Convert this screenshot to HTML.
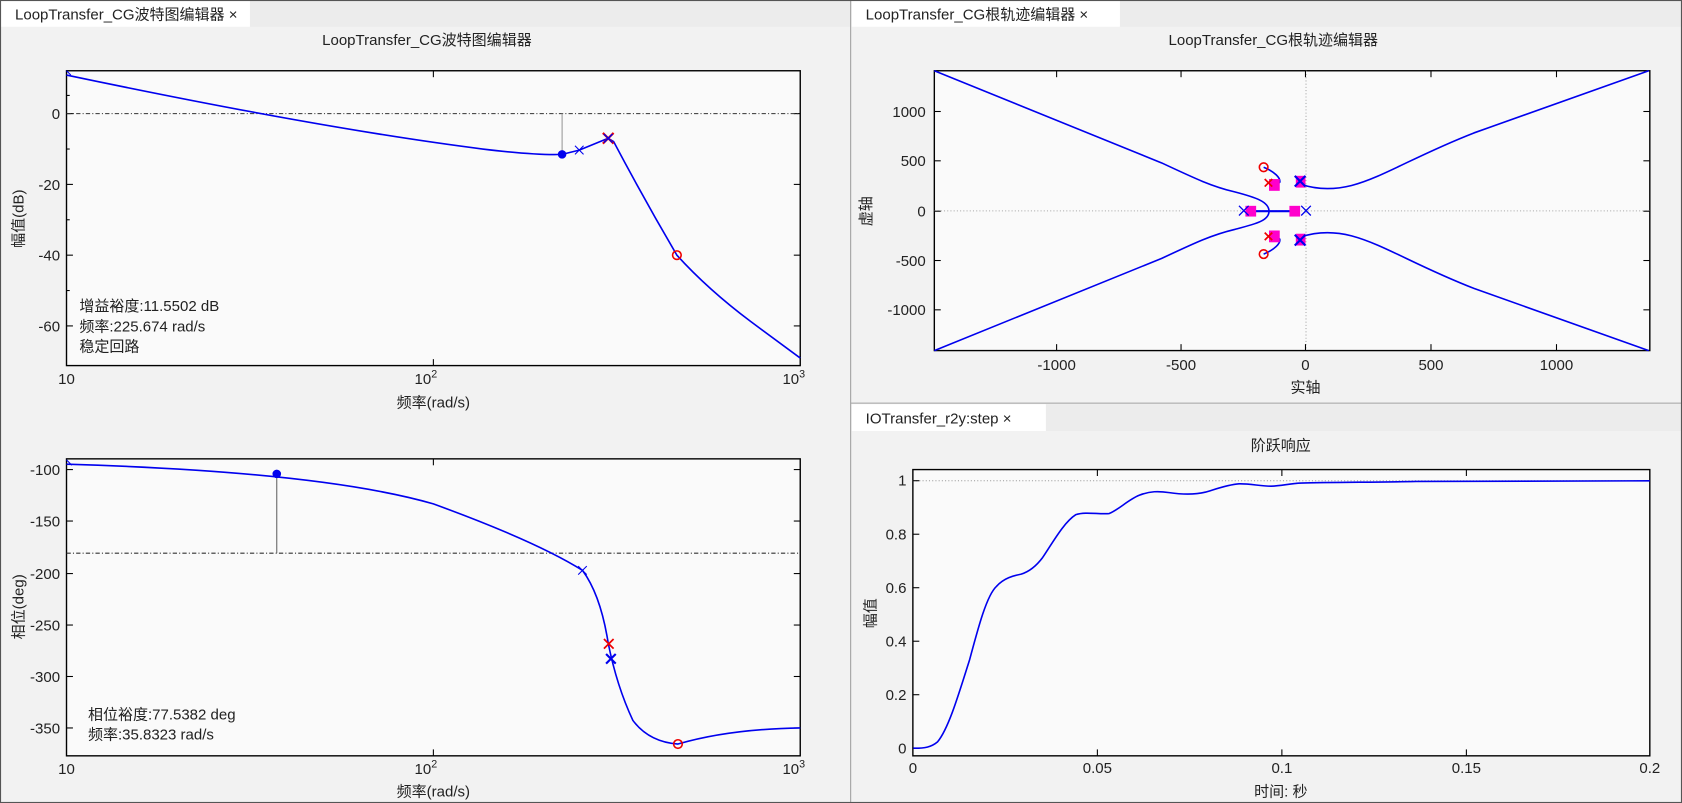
<!DOCTYPE html>
<html><head><meta charset="utf-8"><style>
html,body{margin:0;padding:0;background:#f0f0f0;overflow:hidden}
svg{display:block}
text{font-family:"Liberation Sans","Noto Sans CJK SC",sans-serif;fill:#222}
</style></head><body>
<svg width="1682" height="803" viewBox="0 0 1568 749" preserveAspectRatio="none" xmlns="http://www.w3.org/2000/svg">
<rect width="1568" height="749" fill="#f2f2f2"/>
<rect x="0" y="0" width="793" height="25" fill="#ececec"/>
<rect x="0" y="0" width="233" height="25" fill="#fff"/>
<text x="14" y="18" font-size="14">LoopTransfer_CG波特图编辑器 ×</text>
<rect x="794" y="0" width="774" height="25" fill="#ececec"/>
<rect x="794" y="0" width="250" height="25" fill="#fff"/>
<text x="807" y="18" font-size="14">LoopTransfer_CG根轨迹编辑器 ×</text>
<rect x="794" y="377" width="774" height="25" fill="#ececec"/>
<rect x="794" y="377" width="181" height="25" fill="#fff"/>
<text x="807" y="395" font-size="14">IOTransfer_r2y:step ×</text>
<line x1="793" y1="0" x2="793" y2="749" stroke="#a0a0a0"/>
<line x1="793" y1="376" x2="1568" y2="376" stroke="#a0a0a0"/>
<rect x="0.5" y="0.5" width="1567" height="748" fill="none" stroke="#555"/>

<text x="398" y="42" font-size="14" text-anchor="middle">LoopTransfer_CG波特图编辑器</text>
<text x="1187" y="42" font-size="14" text-anchor="middle">LoopTransfer_CG根轨迹编辑器</text>
<text x="1194" y="420" font-size="14" text-anchor="middle">阶跃响应</text>

<!-- Bode magnitude -->
<rect x="62" y="66" width="684" height="275" fill="#fafafa" stroke="#000" stroke-width="1.3"/>
<g stroke="#000" stroke-width="1">
<line x1="62" y1="106" x2="68" y2="106"/><line x1="62" y1="172" x2="68" y2="172"/><line x1="62" y1="238" x2="68" y2="238"/><line x1="62" y1="304" x2="68" y2="304"/>
<line x1="62" y1="89" x2="65" y2="89"/><line x1="62" y1="139" x2="65" y2="139"/><line x1="62" y1="205" x2="65" y2="205"/><line x1="62" y1="271" x2="65" y2="271"/>
<line x1="740" y1="106" x2="746" y2="106"/><line x1="740" y1="172" x2="746" y2="172"/><line x1="740" y1="238" x2="746" y2="238"/><line x1="740" y1="304" x2="746" y2="304"/>
<line x1="404" y1="66" x2="404" y2="72"/><line x1="404" y1="341" x2="404" y2="335"/>
</g>
<line x1="62" y1="106" x2="746" y2="106" stroke="#333" stroke-dasharray="4,2,1,2"/>
<line x1="524" y1="106" x2="524" y2="144" stroke="#999"/>
<path fill="none" stroke="#0000ee" stroke-width="1.5" stroke-linejoin="round" d="M62,70 Q300,120 450,139 Q500,145 524,144 L540,140 L567,129 L572,132 Q600,185 631,238 Q660,270 700,300 L746,334"/>
<circle cx="524" cy="144" r="4" fill="#0000ee"/>
<path d="M536,136l8,8M544,136l-8,8" stroke="#0000ee"/>
<path d="M62,66l4,4" stroke="#0000ee"/>
<path d="M562,124l10,10M572,124l-10,10" stroke="#ee0000" stroke-width="2"/>
<path d="M563,125l8,8M571,125l-8,8" stroke="#0000ee" stroke-width="1.3"/>
<circle cx="631" cy="238" r="4" fill="none" stroke="#ee0000" stroke-width="1.5"/>
<g font-size="14" text-anchor="end">
<text x="56" y="111">0</text><text x="56" y="177">-20</text><text x="56" y="243">-40</text><text x="56" y="309">-60</text>
</g>
<text x="62" y="358" font-size="14" text-anchor="middle">10</text>
<text x="397" y="358" font-size="14" text-anchor="middle">10<tspan font-size="10" dy="-6">2</tspan></text>
<text x="740" y="358" font-size="14" text-anchor="middle">10<tspan font-size="10" dy="-6">3</tspan></text>
<text x="404" y="380" font-size="14" text-anchor="middle">频率(rad/s)</text>
<text transform="translate(22,204) rotate(-90)" font-size="14" text-anchor="middle">幅值(dB)</text>
<text x="74" y="290" font-size="14">增益裕度:11.5502 dB</text>
<text x="74" y="309" font-size="14">频率:225.674 rad/s</text>
<text x="74" y="328" font-size="14">稳定回路</text>

<!-- Bode phase -->
<rect x="62" y="428" width="684" height="277" fill="#fafafa" stroke="#000" stroke-width="1.3"/>
<g stroke="#000">
<line x1="62" y1="438" x2="68" y2="438"/><line x1="62" y1="486" x2="68" y2="486"/><line x1="62" y1="535" x2="68" y2="535"/><line x1="62" y1="583" x2="68" y2="583"/><line x1="62" y1="631" x2="68" y2="631"/><line x1="62" y1="679" x2="68" y2="679"/>
<line x1="740" y1="438" x2="746" y2="438"/><line x1="740" y1="486" x2="746" y2="486"/><line x1="740" y1="535" x2="746" y2="535"/><line x1="740" y1="583" x2="746" y2="583"/><line x1="740" y1="631" x2="746" y2="631"/><line x1="740" y1="679" x2="746" y2="679"/>
<line x1="404" y1="428" x2="404" y2="434"/><line x1="404" y1="705" x2="404" y2="699"/>
</g>
<line x1="62" y1="516" x2="746" y2="516" stroke="#333" stroke-dasharray="4,2,1,2"/>
<line x1="258" y1="442" x2="258" y2="516" stroke="#666"/>
<path fill="none" stroke="#0000ee" stroke-width="1.5" d="M62,433 Q300,440 404,470 Q500,505 543,532 Q560,555 567,600 Q575,640 590,672 Q605,692 632,694 Q680,680 746,679"/>
<circle cx="258" cy="442" r="4" fill="#0000ee"/>
<path d="M539,528l8,8M547,528l-8,8" stroke="#0000ee"/>
<path d="M563,596l9,9M572,596l-9,9" stroke="#ee0000" stroke-width="1.6"/>
<path d="M565,610l9,9M574,610l-9,9" stroke="#0000ee" stroke-width="2"/>
<path d="M62,429l5,5" stroke="#0000ee"/>
<circle cx="632" cy="694" r="4" fill="none" stroke="#ee0000" stroke-width="1.5"/>
<g font-size="14" text-anchor="end">
<text x="56" y="443">-100</text><text x="56" y="491">-150</text><text x="56" y="540">-200</text><text x="56" y="588">-250</text><text x="56" y="636">-300</text><text x="56" y="684">-350</text>
</g>
<text x="62" y="722" font-size="14" text-anchor="middle">10</text>
<text x="397" y="722" font-size="14" text-anchor="middle">10<tspan font-size="10" dy="-6">2</tspan></text>
<text x="740" y="722" font-size="14" text-anchor="middle">10<tspan font-size="10" dy="-6">3</tspan></text>
<text x="404" y="743" font-size="14" text-anchor="middle">频率(rad/s)</text>
<text transform="translate(22,566) rotate(-90)" font-size="14" text-anchor="middle">相位(deg)</text>
<text x="82" y="671" font-size="14">相位裕度:77.5382 deg</text>
<text x="82" y="690" font-size="14">频率:35.8323 rad/s</text>

<!-- Root locus -->
<rect x="871" y="66" width="667" height="261" fill="#fafafa" stroke="#000" stroke-width="1.3"/>
<line x1="1217.5" y1="66" x2="1217.5" y2="327" stroke="#aaa" stroke-dasharray="1,2"/>
<line x1="871" y1="196.7" x2="1538" y2="196.7" stroke="#aaa" stroke-dasharray="1,2"/>
<g stroke="#000">
<line x1="871" y1="104" x2="877" y2="104"/><line x1="871" y1="150" x2="877" y2="150"/><line x1="871" y1="197" x2="877" y2="197"/><line x1="871" y1="243" x2="877" y2="243"/><line x1="871" y1="289" x2="877" y2="289"/>
<line x1="1532" y1="104" x2="1538" y2="104"/><line x1="1532" y1="150" x2="1538" y2="150"/><line x1="1532" y1="197" x2="1538" y2="197"/><line x1="1532" y1="243" x2="1538" y2="243"/><line x1="1532" y1="289" x2="1538" y2="289"/>
<line x1="985" y1="327" x2="985" y2="321"/><line x1="1101" y1="327" x2="1101" y2="321"/><line x1="1217" y1="327" x2="1217" y2="321"/><line x1="1334" y1="327" x2="1334" y2="321"/><line x1="1451" y1="327" x2="1451" y2="321"/>
<line x1="985" y1="66" x2="985" y2="72"/><line x1="1101" y1="66" x2="1101" y2="72"/><line x1="1217" y1="66" x2="1217" y2="72"/><line x1="1334" y1="66" x2="1334" y2="72"/><line x1="1451" y1="66" x2="1451" y2="72"/>
</g>
<g fill="none" stroke="#0000ee" stroke-width="1.5">
<path d="M871,66 L1083,152 C1115,167 1130,174 1151,179 C1170,184 1183,188 1183,197 C1183,206 1170,209 1151,214 C1130,219 1115,226 1083,241 L871,327"/>
<path d="M1537,66 L1374,124 C1320,145 1290,165 1260,173 C1240,178 1225,176 1213,172"/>
<path d="M1537,327 L1374,269 C1320,248 1290,228 1260,220 C1240,215 1225,217 1213,221"/>
<path d="M1166,197 L1207,197" stroke-width="2"/>
<path d="M1178,156 C1188,160 1194,166 1193,170 L1189,173"/>
<path d="M1178,237 C1188,233 1194,227 1193,223 L1189,220"/>
</g>
<g fill="#ff00cc">
<rect x="1161" y="192" width="10" height="10"/><rect x="1202" y="192" width="10" height="10"/>
<rect x="1183" y="167" width="10" height="11"/><rect x="1183" y="215" width="10" height="11"/>
<rect x="1208" y="164" width="9" height="11"/><rect x="1208" y="218" width="9" height="11"/>
</g>
<path d="M1179,167l7,7M1186,167l-7,7M1179,217l7,7M1186,217l-7,7" stroke="#ee0000" stroke-width="1.6"/>
<path d="M1155,192l9,9M1164,192l-9,9M1213,192l9,9M1222,192l-9,9" stroke="#0000ee" stroke-width="1.2"/>
<path d="M1207,164l10,10M1217,164l-10,10M1207,219l10,10M1217,219l-10,10" stroke="#0000ee" stroke-width="2"/>
<circle cx="1178" cy="156" r="4" fill="none" stroke="#ee0000" stroke-width="1.5"/>
<circle cx="1178" cy="237" r="4" fill="none" stroke="#ee0000" stroke-width="1.5"/>
<g font-size="14" text-anchor="end">
<text x="863" y="109">1000</text><text x="863" y="155">500</text><text x="863" y="202">0</text><text x="863" y="248">-500</text><text x="863" y="294">-1000</text>
</g>
<g font-size="14" text-anchor="middle">
<text x="985" y="345">-1000</text><text x="1101" y="345">-500</text><text x="1217" y="345">0</text><text x="1334" y="345">500</text><text x="1451" y="345">1000</text>
<text x="1217" y="366">实轴</text>
</g>
<text transform="translate(812,197) rotate(-90)" font-size="14" text-anchor="middle">虚轴</text>

<!-- Step -->
<rect x="851" y="438" width="687" height="267" fill="#fafafa" stroke="#000" stroke-width="1.3"/>
<line x1="851" y1="448.4" x2="1538" y2="448.4" stroke="#999" stroke-dasharray="1,2"/>
<g stroke="#000">
<line x1="851" y1="448.4" x2="857" y2="448.4"/><line x1="851" y1="498.3" x2="857" y2="498.3"/><line x1="851" y1="548.2" x2="857" y2="548.2"/><line x1="851" y1="598.1" x2="857" y2="598.1"/><line x1="851" y1="648" x2="857" y2="648"/><line x1="851" y1="698" x2="857" y2="698"/>
<line x1="1023" y1="705" x2="1023" y2="699"/><line x1="1195" y1="705" x2="1195" y2="699"/><line x1="1367" y1="705" x2="1367" y2="699"/>
<line x1="1023" y1="438" x2="1023" y2="444"/><line x1="1195" y1="438" x2="1195" y2="444"/><line x1="1367" y1="438" x2="1367" y2="444"/>
</g>
<path fill="none" stroke="#0000ee" stroke-width="1.5" d="M851.4,697.9 C862,698 868,697 874,692 C884,680 893,650 904,615 C912,585 920,555 929,546.9 C936,539 945,537 952,535.5 C960,533 966,528 972,520 C982,505 992,487 1003,480 C1012,477 1025,480 1034,479 C1042,476 1052,466 1062,462 C1072,458 1080,458 1090,459.5 C1100,461 1112,462 1124,459 C1134,456 1145,452 1155,451.3 C1165,451 1175,453.5 1185,453.5 C1195,453 1203,451 1213,450.6 C1240,449.7 1280,449.9 1320,449.1 C1380,448.8 1460,448.6 1538,448.5"/>
<g font-size="14" text-anchor="end">
<text x="845" y="453">1</text><text x="845" y="503">0.8</text><text x="845" y="553">0.6</text><text x="845" y="603">0.4</text><text x="845" y="653">0.2</text><text x="845" y="703">0</text>
</g>
<g font-size="14" text-anchor="middle">
<text x="851" y="721">0</text><text x="1023" y="721">0.05</text><text x="1195" y="721">0.1</text><text x="1367" y="721">0.15</text><text x="1538" y="721">0.2</text>
<text x="1194" y="743">时间: 秒</text>
</g>
<text transform="translate(816,572) rotate(-90)" font-size="14" text-anchor="middle">幅值</text>
</svg>
</body></html>
